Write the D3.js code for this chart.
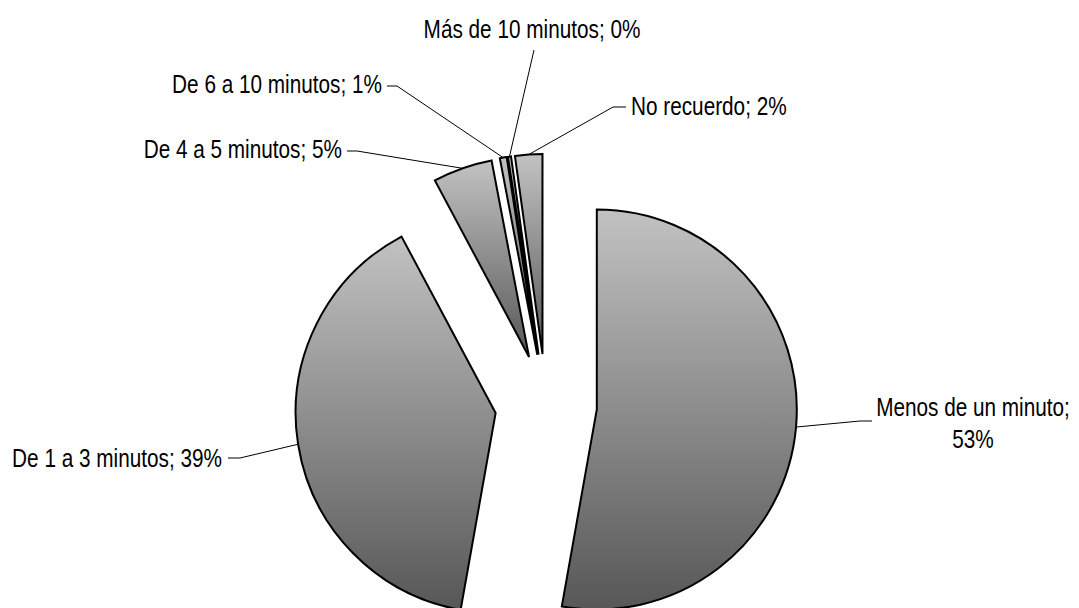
<!DOCTYPE html>
<html>
<head>
<meta charset="utf-8">
<script src="https://cdn.jsdelivr.net/npm/d3@7"></script>
<style>
  body { margin: 0; background: #fff; }
  text { font-family: "Liberation Sans", Arial, sans-serif; fill: #000; }
</style>
</head>
<body>
<svg id="chart"></svg>
<script>
// data (shares in %)
const categories = ["Menos de un minuto", "De 1 a 3 minutos", "De 4 a 5 minutos",
                    "De 6 a 10 minutos", "Más de 10 minutos", "No recuerdo"];
const shares = [52.8, 39.4, 4.8, 0.55, 0.25, 2.2];

// where each label sits (elbow of leader, end of leader, text anchor point)
const labelSpots = [
  { elbow: [860, 421], tail: [872, 421], x: 973, y: 416, anchor: "middle", split: true },
  { elbow: [240, 458], tail: [228, 458], x: 222, y: 467, anchor: "end" },
  { elbow: [357, 151], tail: [347, 151], x: 342, y: 158, anchor: "end" },
  { elbow: [397, 86], tail: [387, 86], x: 382, y: 93, anchor: "end" },
  { elbow: [534, 50], tail: null, x: 532, y: 38, anchor: "middle" },
  { elbow: [613, 107], tail: [626, 107], x: 631, y: 115, anchor: "start" }
];

const width = 1079, height = 608;
const cx = 546, cy = 405;
const radius = 200, explode = 51;
const fontSize = 25, squeeze = 0.83;

const svg = d3.select("#chart").attr("width", width).attr("height", height);

const grad = svg.append("defs").append("linearGradient")
  .attr("id", "sliceFill")
  .attr("x1", 0).attr("y1", 0).attr("x2", 0).attr("y2", 1);
grad.append("stop").attr("offset", "0%").attr("stop-color", "#c2c2c2");
grad.append("stop").attr("offset", "100%").attr("stop-color", "#575757");

const pie = d3.pie().sort(null).value(d => d);
const arc = d3.arc().innerRadius(0).outerRadius(radius);
const arcs = pie(shares);

const offset = a => {
  const mid = (a.startAngle + a.endAngle) / 2;
  return [cx + Math.sin(mid) * explode, cy - Math.cos(mid) * explode];
};

const g = svg.append("g");

g.selectAll(".slice")
  .data(arcs)
  .enter()
  .append("path")
  .attr("class", "slice")
  .attr("transform", d => `translate(${offset(d)})`)
  .attr("d", arc)
  .style("fill", "url(#sliceFill)")
  .style("stroke", "#000")
  .style("stroke-width", 2)
  .style("stroke-linejoin", "miter");

// leader lines
g.selectAll(".leader")
  .data(arcs)
  .enter()
  .append("polyline")
  .attr("class", "leader")
  .attr("points", (d, i) => {
    const mid = (d.startAngle + d.endAngle) / 2;
    const [ox, oy] = offset(d);
    const start = [ox + Math.sin(mid) * radius, oy - Math.cos(mid) * radius];
    const s = labelSpots[i];
    const pts = [start, s.elbow];
    if (s.tail) pts.push(s.tail);
    return pts.map(p => p.join(",")).join(" ");
  })
  .style("fill", "none")
  .style("stroke", "#000")
  .style("stroke-width", 1);

// labels, squeezed narrow like the original
const addText = (str, ax, y, anchor) => {
  svg.append("text")
    .attr("transform", `translate(${ax},${y}) scale(${squeeze},1)`)
    .attr("text-anchor", anchor)
    .attr("font-size", fontSize)
    .text(str);
};

arcs.forEach((d, i) => {
  const s = labelSpots[i];
  const pct = Math.round(shares[i]) + "%";
  if (s.split) {
    addText(categories[i] + ";", s.x, s.y, s.anchor);
    addText(pct, s.x, s.y + 32, s.anchor);
  } else {
    addText(categories[i] + "; " + pct, s.x, s.y, s.anchor);
  }
});
</script>
</body>
</html>
